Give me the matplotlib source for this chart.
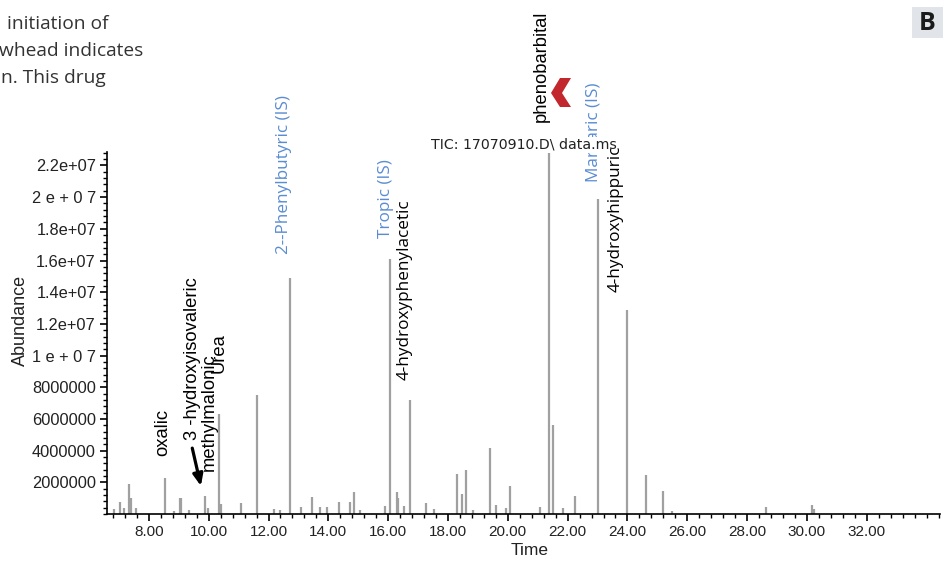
import numpy as np
import matplotlib
matplotlib.use("Agg")
import matplotlib.pyplot as plt
from matplotlib.patches import Polygon, Rectangle
from matplotlib.ticker import MultipleLocator, FixedLocator

# ---------------- datos del cromatograma
peak_time = [6.85, 7.03, 7.18, 7.32, 7.40, 7.57, 8.53, 8.85, 9.04, 9.09, 9.35, 9.87,
             9.98, 10.34, 10.40, 11.09, 11.62, 12.20, 12.40, 12.72, 13.10, 13.44, 13.72,
             13.94, 14.36, 14.72, 14.85, 15.06, 15.89, 16.06, 16.28, 16.33, 16.53,
             16.73, 17.28, 17.53, 18.29, 18.48, 18.59, 18.85, 19.39, 19.61, 19.94,
             20.08, 21.08, 21.39, 21.52, 21.86, 22.25, 23.00, 23.99, 24.62, 25.20,
             25.50, 28.62, 30.16, 30.24]
peak_height = [0.30e6, 0.74e6, 0.35e6, 1.90e6, 1.00e6, 0.40e6, 2.25e6, 0.20e6, 1.03e6,
               1.00e6, 0.25e6, 1.12e6, 0.40e6, 6.30e6, 0.60e6, 0.70e6, 7.50e6, 0.30e6,
               0.25e6, 14.9e6, 0.42e6, 1.10e6, 0.42e6, 0.42e6, 0.78e6, 0.78e6, 1.40e6,
               0.25e6, 0.50e6, 16.1e6, 1.37e6, 1.00e6, 0.50e6, 7.20e6, 0.70e6, 0.30e6,
               2.53e6, 1.26e6, 2.80e6, 0.25e6, 4.17e6, 0.57e6, 0.35e6, 1.75e6, 0.46e6,
               22.8e6, 5.60e6, 0.35e6, 1.14e6, 19.9e6, 12.85e6, 2.46e6, 1.47e6, 0.20e6,
               0.42e6, 0.59e6, 0.30e6]

ytick_vals   = [2e6, 4e6, 6e6, 8e6, 10e6, 12e6, 14e6, 16e6, 18e6, 20e6, 22e6]
ytick_labels = ["2000000", "4000000", "6000000", "8000000", "1 e + 0 7", "1.2e+07",
                "1.4e+07", "1.6e+07", "1.8e+07", "2 e + 0 7", "2.2e+07"]
xtick_vals   = [8, 10, 12, 14, 16, 18, 20, 22, 24, 26, 28, 30, 32]
xtick_labels = ["%.2f" % v for v in xtick_vals]

# etiquetas de compuestos: texto, tiempo, altura de la base, color
lbl_text = ["oxalic", "3 -hydroxyisovaleric", "methylmalonic", "Urea",
            "2--Phenylbutyric (IS)", "Tropic (IS)", "4-hydroxyphenylacetic",
            "phenobarbital", "Margaric (IS)", "4-hydroxyhippuric"]
lbl_x    = [8.47, 9.47, 10.02, 10.36, 12.53, 15.93, 16.56, 21.13, 22.88, 23.59]
lbl_y    = [3.69e6, 4.64e6, 2.74e6, 8.87e6, 16.39e6, 17.44e6, 8.43e6, 24.74e6, 20.95e6, 14.0e6]
lbl_blue = [False, False, False, False, True, True, False, False, True, False]
lbl_open = [False, False, False, False, True, True, True, False, True, True]

BLUE = "#5a8cd2"
RED  = "#c1272d"

fig = plt.figure(figsize=(9.46, 5.65), dpi=100)
ax = fig.add_axes([107/946, 1-514/565, 833/946, 362/565])

ax.vlines(peak_time, 0, peak_height, color="#a0a0a0", linewidth=1.6)

ax.set_xlim(6.6, 34.45)
ax.set_ylim(0, 2.285e7)

for s in ["top", "right"]:
    ax.spines[s].set_visible(False)
ax.spines["left"].set_linewidth(1.2)
ax.spines["bottom"].set_linewidth(1.2)

ax.yaxis.set_major_locator(FixedLocator(ytick_vals))
ax.set_yticklabels(ytick_labels, family="Liberation Sans", fontsize=11.8, color="#222222")
ax.yaxis.set_minor_locator(MultipleLocator(4e5))
ax.xaxis.set_major_locator(FixedLocator(xtick_vals))
ax.set_xticklabels(xtick_labels, family="Liberation Sans", fontsize=11, color="#222222")
ax.xaxis.set_minor_locator(MultipleLocator(0.4))
ax.tick_params(which="major", direction="out", length=5, width=1.2, pad=3)
ax.tick_params(which="minor", direction="out", length=3, width=1.0)

ax.set_xlabel("Time", family="Liberation Sans", fontsize=12.5, color="#222222")
ax.xaxis.set_label_coords((530-107)/833, (514-543)/362)
ax.set_ylabel("Abundance", family="Liberation Sans", fontsize=13, color="#222222",
              va="center")
ax.yaxis.set_label_coords((20-107)/833, (514-320)/362)

for t, x, y, b, o in zip(lbl_text, lbl_x, lbl_y, lbl_blue, lbl_open):
    ax.text(x, y, t, rotation=90, ha="center", va="bottom",
            color=BLUE if b else "black",
            family="Open Sans" if o else "Liberation Sans",
            fontsize=12.3 if o else 13.2, clip_on=False,
            zorder=12 if t == "4-hydroxyhippuric" else 5)

# flecha a 3-hydroxyisovaleric
ax.annotate("", xy=(9.76, 1.6e6), xytext=(9.43, 4.33e6),
            arrowprops=dict(arrowstyle="-|>,head_length=0.7,head_width=0.3",
                            color="black", lw=2.3), annotation_clip=False)

# titulo TIC con fondo blanco
ax.text(0.5, 1.0, "TIC: 17070910.D\\ data.ms", transform=ax.transAxes,
        ha="center", va="bottom", family="DejaVu Sans", fontsize=10.2, color="#222222",
        bbox=dict(facecolor="white", edgecolor="none", pad=1.0), zorder=10)

# chevron rojo
chev = [(551, 93), (560, 78), (571, 78), (562, 93), (571, 107), (560, 107)]
fig.patches.append(Polygon([(x/946, 1-y/565) for x, y in chev], closed=True,
                           transform=fig.transFigure, facecolor=RED, edgecolor="none"))

# recuadro B
fig.patches.append(Rectangle((912/946, 1-38/565), 31/946, 31/565, transform=fig.transFigure,
                             facecolor="#e1e5ea", edgecolor="none"))
fig.text(927.5/946, 1-23/565, "B", ha="center", va="center", fontsize=18,
         fontweight="bold", family="Open Sans", color="#1a1a1a")

# texto del articulo recortado
for txt, xx, yy in [(" initiation of", 2, 24), ("whead indicates", -1, 51), ("n. This drug", 1, 78)]:
    fig.text(xx/946, 1-yy/565, txt, ha="left", va="center", fontsize=13.8,
             family="Open Sans", color="#333333")

fig.savefig("out.png", dpi=100)
